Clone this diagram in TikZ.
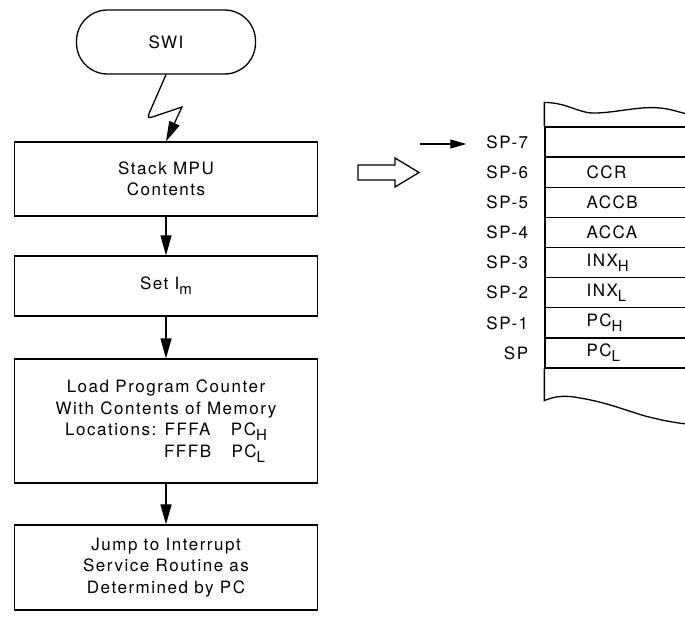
\documentclass[tikz,border=0pt]{standalone}
\usepackage{fontspec}
\setmainfont{TeX Gyre Heros}[LetterSpace=9]
\usetikzlibrary{arrows.meta,positioning}
\newcommand{\regsub}[1]{\raisebox{-5pt}{\fontsize{15}{15}\selectfont #1}}
\tikzset{
 flowbox/.style={draw,line width=1.3pt,minimum width=303pt,align=center,inner sep=2pt,
  font=\fontsize{17}{21.5}\selectfont},
 termbox/.style={draw,line width=1.3pt,rounded corners=31pt,minimum width=179pt,minimum height=64pt,
  font=\fontsize{17}{21.5}\selectfont},
 flowarrow/.style={line width=1.3pt,-{Triangle[length=20pt,width=11pt]}},
 ptrarrow/.style={line width=1.3pt,-{Triangle[length=16pt,width=9pt]}},
 stackcell/.style={draw,line width=1.3pt,minimum width=160pt,minimum height=30.125pt,inner sep=0pt},
 splabel/.style={inner sep=0pt,font=\fontsize{17}{18}\selectfont},
 regtext/.style={inner sep=0pt,font=\fontsize{17}{18}\selectfont}
}
\begin{document}
\begin{tikzpicture}[x=1pt,y=-1pt]
\useasboundingbox (0,0) rectangle (685,621);
% flow chart
\node[termbox] (swi) at (166,42) {SWI};
\node[flowbox,minimum height=74pt] (stack) at (166,179) {Stack MPU\\Contents};
\node[flowbox,minimum height=60pt] (setim) at (166,286) {Set I\regsub{m}};
\node[flowbox,minimum height=124pt] (load) at (166,421)
 {Load Program Counter\\With Contents of Memory\\
  Locations: FFFA\hspace{1.2em}PC\regsub{H}\\
  \hphantom{Locations: }FFFB\hspace{1.2em}PC\rlap{\regsub{L}}\hphantom{\regsub{H}}};
\node[flowbox,minimum height=85pt] (jump) at (166,567.5)
 {Jump to Interrupt\\Service Routine as\\Determined by PC};
\draw[flowarrow] (swi.south) -- (149.3,113) .. controls (147.2,117.5) and (148.5,118.5) .. (153.5,116.6)
 -- (182,107) -- (stack.north);
\draw[flowarrow] (stack) -- (setim);
\draw[flowarrow] (setim) -- (load);
\draw[flowarrow] (load) -- (jump);
% hollow arrow
\draw[line width=1.3pt] (358,165) -- (395,165) -- (395,158) -- (419,172.5) -- (395,187) -- (395,180)
 -- (358,180) -- cycle;
% stack
\node[stackcell] (c7) at (625,142.1) {};
\node[stackcell] (c6) at (625,172.2) {};
\node[stackcell] (c5) at (625,202.3) {};
\node[stackcell] (c4) at (625,232.4) {};
\node[stackcell] (c3) at (625,262.6) {};
\node[stackcell] (c2) at (625,292.7) {};
\node[stackcell] (c1) at (625,322.8) {};
\node[stackcell] (c0) at (625,352.9) {};
\draw[line width=1.3pt] (c7.north west) -- ++(0,-24) .. controls (570,103) and (578,114) .. (597,113)
 .. controls (620,112) and (640,106) .. (660,108) .. controls (672,109) and (680,113) .. (700,117);
\draw[line width=1.3pt] (c0.south west) -- ++(0,32) .. controls (555,396) and (565,395) .. (580,398)
 .. controls (605,402) and (625,410) .. (645,416) .. controls (665,421) and (680,424) .. (700,425);
\node[splabel,left=16pt of c7.west] (sp7) {SP-7};
\node[splabel,left=16pt of c6.west] (sp6) {SP-6};
\node[splabel,left=16pt of c5.west] (sp5) {SP-5};
\node[splabel,left=16pt of c4.west] (sp4) {SP-4};
\node[splabel,left=16pt of c3.west] (sp3) {SP-3};
\node[splabel,left=16pt of c2.west] (sp2) {SP-2};
\node[splabel,left=16pt of c1.west] (sp1) {SP-1};
\node[splabel,left=16pt of c0.west] (sp0) {SP};
\node[regtext,right=42pt of c6.west] (ccr) {CCR};
\node[regtext,right=42pt of c5.west] (accb) {ACCB};
\node[regtext,right=42pt of c4.west] (acca) {ACCA};
\node[regtext,right=42pt of c3.west] (inxh) {INX\regsub{H}};
\node[regtext,right=42pt of c2.west] (inxl) {INX\regsub{L}};
\node[regtext,right=42pt of c1.west] (pch) {PC\regsub{H}};
\node[regtext,right=42pt of c0.west] (pcl) {PC\regsub{L}};
\coordinate (ptrtail) at (420,144);
\draw[ptrarrow,shorten >=20pt] (ptrtail) -- (sp7.west |- ptrtail);
\end{tikzpicture}
\end{document}
